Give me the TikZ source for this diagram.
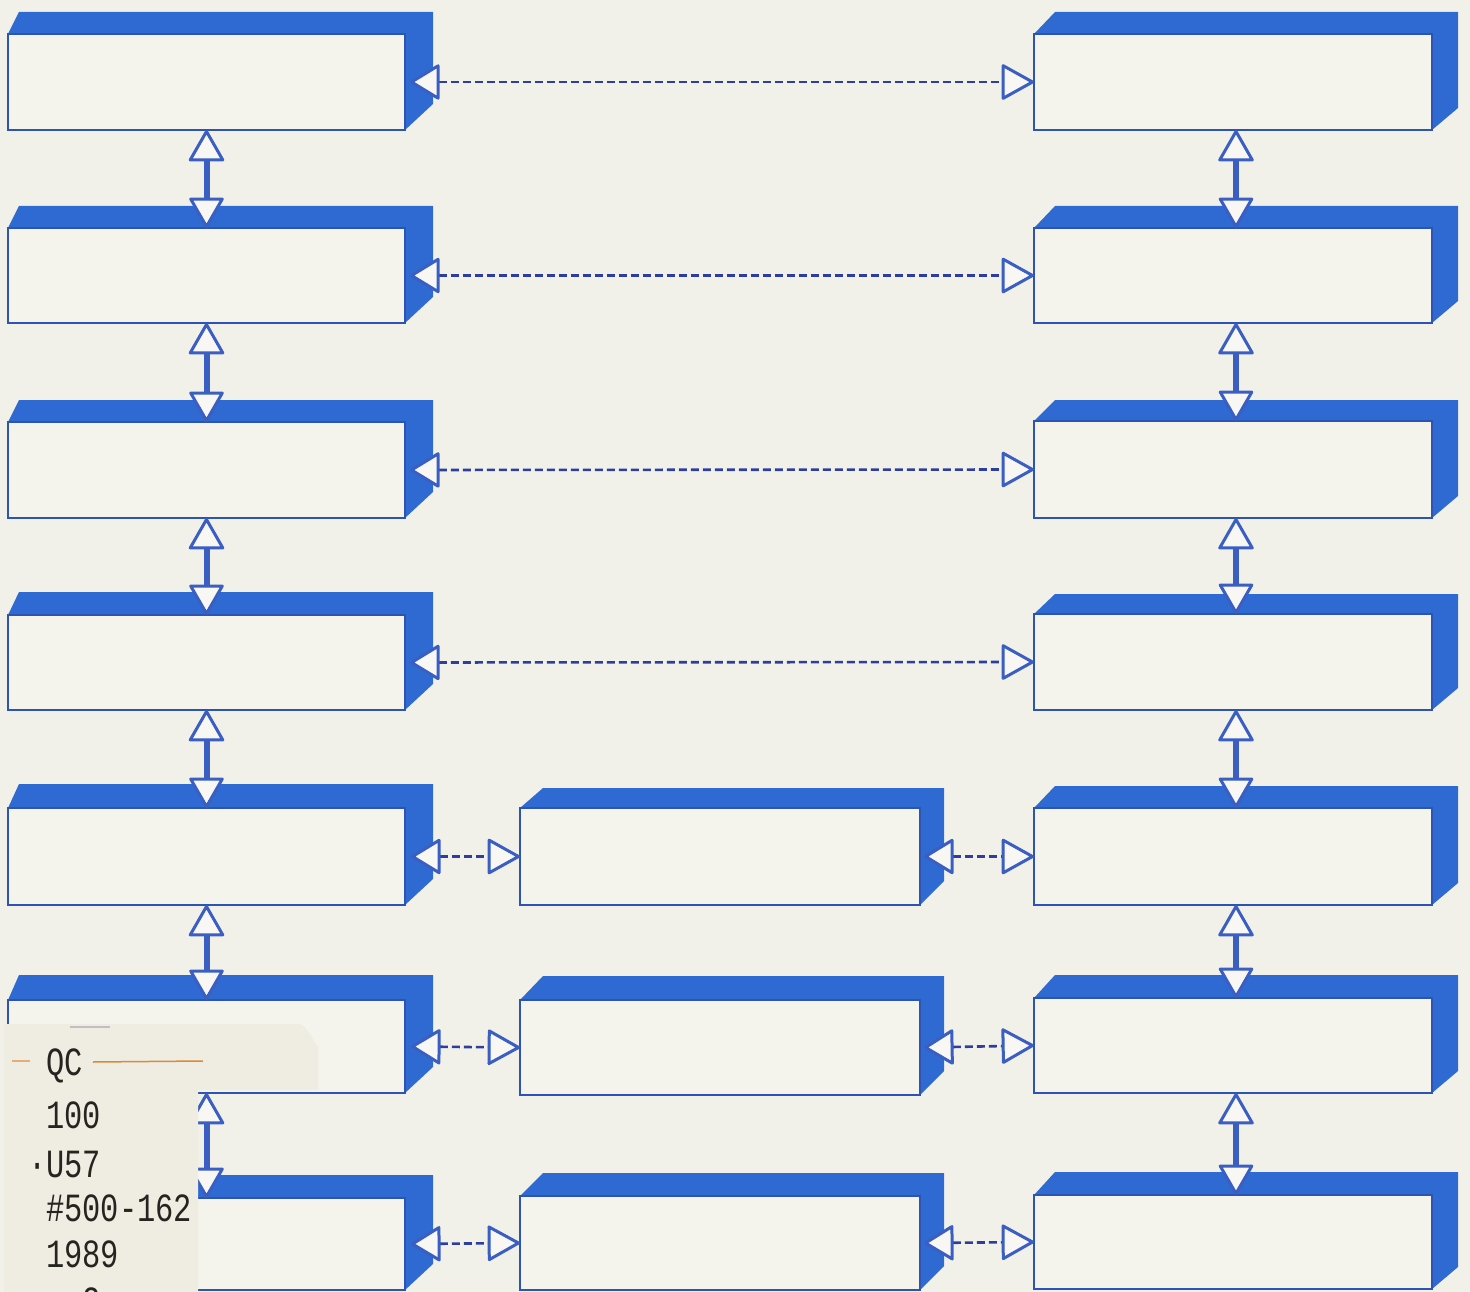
\documentclass[tikz,border=0pt]{standalone}
\usepackage{fontspec}
\newfontfamily\stickerfont{Liberation Mono}
\usetikzlibrary{arrows.meta}
\definecolor{bg}{HTML}{F2F1E9}
\definecolor{facefill}{HTML}{F4F3EC}
\definecolor{band}{HTML}{2E6AD2}
\definecolor{edge}{HTML}{2D53B3}
\definecolor{tricol}{HTML}{3A5EC2}
\definecolor{trifill}{HTML}{F8F7F3}
\definecolor{dashcol}{HTML}{2E3E9C}
\definecolor{stickerbg}{HTML}{EFEDE1}
\definecolor{stickink}{HTML}{262420}
\definecolor{orangeline}{HTML}{D98A3A}
\newcommand\mkpanel[9]{%
  \fill[band] (#2,#5) -- ({#2+#7},#4) -- (#8,#4) -- (#8,{#6-#9}) -- (#3,#6) -- cycle;
  \node[face, minimum width={#3-#2}, minimum height={#6-#5}] (#1) at ({(#2+#3)/2},{(#5+#6)/2}) {};
}
\tikzset{
  face/.style={draw=edge, fill=facefill, line width=2.3pt, inner sep=0pt, outer sep=0pt},
  vconn/.style={draw=tricol, line width=6pt,
    {Triangle[length=33pt,width=37pt,fill=trifill,color=tricol,line width=3pt,round]}-{Triangle[length=32pt,width=36pt,fill=trifill,color=tricol,line width=3pt,round]}},
  hconn/.style={draw=dashcol, line width=2.6pt, dash pattern=on 8pt off 4pt,
    {Triangle[length=31pt,width=37pt,fill=trifill,color=tricol,line width=3pt,round]}-{Triangle[length=34pt,width=37pt,fill=trifill,color=tricol,line width=3pt,round]}},
  stxt/.style={font=\stickerfont\fontsize{40}{40}\selectfont, text=stickink, inner sep=0pt, anchor=base west},
}
\begin{document}
\begin{tikzpicture}[x=1pt,y=-1pt]
\clip (0,0) rectangle (1470,1292);
\fill[bg] (0,0) rectangle (1470,1292);
% left column
\foreach \k/\T/\F/\B in {1/12/34/130, 2/206/228/323, 3/400/422/518, 4/592/615/710, 5/784/808/905, 6/975/1000/1093, 7/1175/1198/1290}{
  \mkpanel{L\k}{8}{405}{\T}{\F}{\B}{11}{433}{26}
}
% right column
\foreach \k/\T/\F/\B in {1/12/34/130, 2/206/228/323, 3/400/421/518, 4/594/614/710, 5/786/808/905, 6/975/998/1093, 7/1172/1195/1289}{
  \mkpanel{R\k}{1034}{1432}{\T}{\F}{\B}{21}{1458}{22}
}
% middle column
\foreach \k/\T/\F/\B in {5/788/808/905, 6/976/1000/1095, 7/1173/1196/1290}{
  \mkpanel{M\k}{520}{920}{\T}{\F}{\B}{23}{944}{24}
}
% vertical connectors
\foreach \k [evaluate=\k as \n using int(\k+1)] in {1,...,6}{
  \draw[vconn] (L\k.south) -- (L\n.north);
  \draw[vconn] ([xshift=3pt]R\k.south) -- ([xshift=3pt]R\n.north);
}
% horizontal connectors
\foreach \k in {1,...,4}{
  \draw[hconn] ([xshift=5pt]L\k.east) -- (R\k.west);
}
\foreach \k in {5,6,7}{
  \draw[hconn] ([xshift=6pt]L\k.east) -- (M\k.west);
  \draw[hconn] ([xshift=4pt]M\k.east) -- (R\k.west);
}
% library sticker
\fill[stickerbg] (4,1024) -- (298,1024) to[out=0,in=-90] (318,1044) -- (318,1090) -- (198,1090) -- (198,1292) -- (4,1292) -- cycle;
\draw[black!25, line width=1.5pt] (70,1027) -- (110,1027);
\node[stxt] (s1) at (46,1075) {\scalebox{0.76}[1]{QC}};
\node[stxt] (s2) at (46,1128) {\scalebox{0.76}[1]{100}};
\node[stxt] (s3) at (28,1177) {\scalebox{0.76}[1]{·U57}};
\node[stxt] (s4) at (46,1221) {\scalebox{0.76}[1]{\#500-162}};
\node[stxt] (s5) at (46,1267) {\scalebox{0.76}[1]{1989}};
\node[stxt] (s6) at (46,1314) {\scalebox{0.76}[1]{c.2}};
\draw[orangeline, line width=1.5pt] ([xshift=10pt,yshift=13pt]s1.base east) -- ++(110,-1);
\draw[orangeline!70, line width=1.2pt] (12,1061) -- (30,1061);
\end{tikzpicture}
\end{document}
